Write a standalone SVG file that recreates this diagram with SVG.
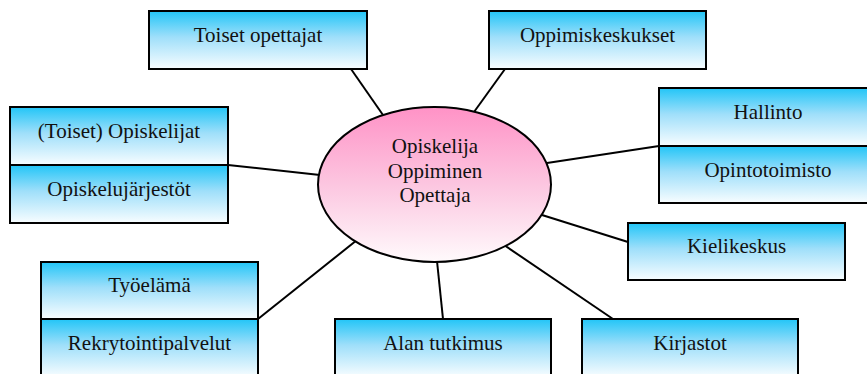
<svg xmlns="http://www.w3.org/2000/svg" width="867" height="374" viewBox="0 0 867 374">
<defs>
<linearGradient id="gBox" x1="0" y1="0" x2="0" y2="1">
<stop offset="0" stop-color="#22c5f7"/>
<stop offset="0.45" stop-color="#9fdffa"/>
<stop offset="1" stop-color="#f8fdff"/>
</linearGradient>
<linearGradient id="gEll" x1="0" y1="0" x2="0" y2="1">
<stop offset="0" stop-color="#ff92c6"/>
<stop offset="0.5" stop-color="#fcc6e0"/>
<stop offset="1" stop-color="#fffafc"/>
</linearGradient>
</defs>
<style>
.box{fill:url(#gBox);stroke:#000;stroke-width:2}
.ell{fill:url(#gEll);stroke:#000;stroke-width:2}
.con line{stroke:#000;stroke-width:2;fill:none}
.t{font-family:'Liberation Serif','Times New Roman','DejaVu Serif',serif;font-size:21px;fill:#111;text-anchor:middle}
</style>
<rect width="867" height="374" fill="#fff"/>
<g id="connectors" class="con">
<line x1="351" y1="69" x2="383" y2="115"/>
<line x1="505" y1="69" x2="474" y2="112"/>
<line x1="228" y1="165" x2="320" y2="175"/>
<line x1="659" y1="146" x2="547" y2="163"/>
<line x1="628" y1="242" x2="542" y2="215"/>
<line x1="258" y1="319" x2="357" y2="240"/>
<line x1="443" y1="319" x2="437" y2="261"/>
<line x1="613" y1="319" x2="504" y2="245"/>
</g>
<g id="center">
<ellipse class="ell" cx="434.5" cy="184.5" rx="116.5" ry="77.5"/>
<text class="t" font-family="Liberation Serif, serif" x="435" y="153">Opiskelija</text>
<text class="t" font-family="Liberation Serif, serif" x="435" y="177.5">Oppiminen</text>
<text class="t" font-family="Liberation Serif, serif" x="435" y="202">Opettaja</text>
</g>
<g id="toiset-opettajat">
<rect class="box" x="149" y="11" width="218" height="58"/>
<text class="t" x="258" y="42">Toiset opettajat</text>
</g>
<g id="oppimiskeskukset">
<rect class="box" x="489" y="11" width="217" height="58"/>
<text class="t" x="597.5" y="42">Oppimiskeskukset</text>
</g>
<g id="toiset-opiskelijat">
<rect class="box" x="10" y="107" width="218" height="58"/>
<text class="t" x="119" y="138">(Toiset) Opiskelijat</text>
</g>
<g id="opiskelujarjestot">
<rect class="box" x="10" y="165" width="218" height="58"/>
<text class="t" x="119" y="196">Opiskelujärjestöt</text>
</g>
<g id="hallinto">
<rect class="box" x="659" y="88" width="218" height="58"/>
<text class="t" x="768" y="119">Hallinto</text>
</g>
<g id="opintotoimisto">
<rect class="box" x="659" y="146" width="218" height="57"/>
<text class="t" x="768" y="177">Opintotoimisto</text>
</g>
<g id="kielikeskus">
<rect class="box" x="628" y="223" width="217" height="57"/>
<text class="t" x="736.5" y="253">Kielikeskus</text>
</g>
<g id="tyoelama">
<rect class="box" x="41" y="262" width="217" height="57"/>
<text class="t" x="149.5" y="292">Työelämä</text>
</g>
<g id="rekrytointipalvelut">
<rect class="box" x="41" y="319" width="217" height="58"/>
<text class="t" x="149.5" y="350">Rekrytointipalvelut</text>
</g>
<g id="alan-tutkimus">
<rect class="box" x="335" y="319" width="216" height="58"/>
<text class="t" x="443" y="350">Alan tutkimus</text>
</g>
<g id="kirjastot">
<rect class="box" x="582" y="319" width="216" height="58"/>
<text class="t" x="690" y="350">Kirjastot</text>
</g>
</svg>
